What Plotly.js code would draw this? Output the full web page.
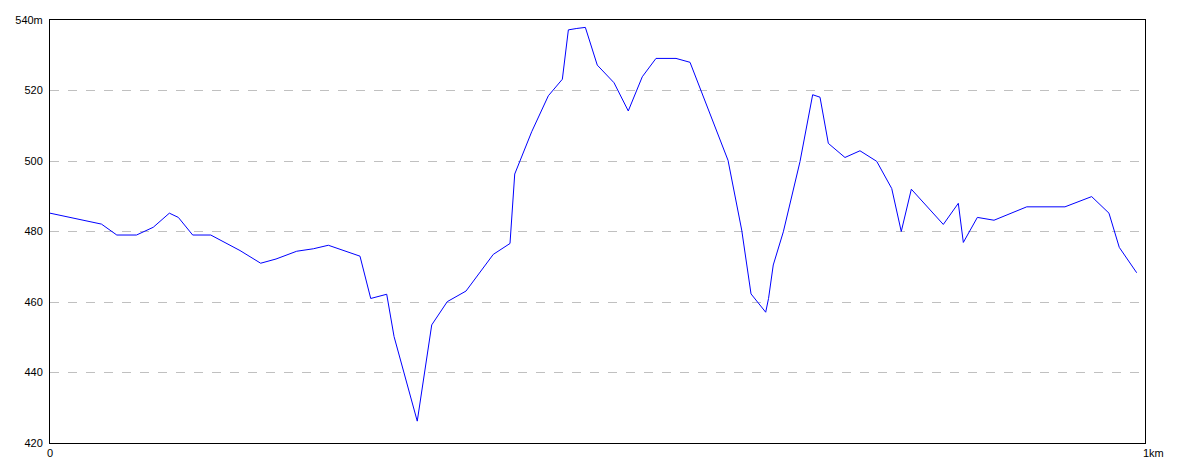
<!DOCTYPE html>
<html>
<head>
<meta charset="utf-8">
<script src="https://cdn.plot.ly/plotly-3.0.1.min.js"></script>
<style>html,body{margin:0;padding:0;background:#fff;}#chart{width:1184px;height:473px;}</style>
</head>
<body>
<div id="chart"></div>
<script>
// Distance along the route (km)
const distanceKm = [0, 0.047, 0.061, 0.079, 0.0943, 0.109, 0.1172, 0.1303, 0.1468, 0.1735,
  0.1924, 0.2064, 0.2253, 0.2405, 0.2542, 0.2831, 0.2929, 0.3075, 0.3142, 0.3354,
  0.3486, 0.3628, 0.3799, 0.4048, 0.4201, 0.4244, 0.4399, 0.4551, 0.4679, 0.4734,
  0.4811, 0.4889, 0.4998, 0.5151, 0.5281, 0.5409, 0.5534, 0.5717, 0.5845, 0.6192,
  0.6317, 0.6402, 0.6536, 0.6562, 0.6605, 0.6697, 0.6849, 0.6965, 0.7032, 0.7108, 0.7260,
  0.7397, 0.7550, 0.7687, 0.7774, 0.7866, 0.8158, 0.8295, 0.8341, 0.8469, 0.8621,
  0.8920, 0.9269, 0.9513, 0.9671, 0.9765, 0.9924];
// Elevation (m)
const elevationM = [485.2, 482.1, 479, 479, 481.2, 485.2, 484, 479, 479, 474.6,
  471, 472.2, 474.4, 475.1, 476.1, 473, 461, 462.2, 450.2, 426.2,
  453.5, 460.1, 463.1, 473.5, 476.6, 496.3, 508.3, 518.5, 523.2, 537.2,
  537.6, 537.9, 527.2, 522.2, 514.2, 523.9, 529.1, 529.1, 528, 500.2,
  480.4, 462.3, 457.1, 461, 470.5, 479.9, 499.8, 518.8, 518.1, 505, 501,
  502.9, 499.9, 492.2, 480, 492, 482, 488, 476.9, 484, 483.2,
  487, 487, 489.9, 485.2, 475.5, 468.3];

const yTickVals = [420, 440, 460, 480, 500, 520, 540];
const yTickText = ['420', '440', '460', '480', '500', '520', '540m'];
const xTickVals = [0, 1];
const xTickText = ['0', '1km'];

const font = {family: 'Liberation Sans, Arial, sans-serif', size: 11, color: '#000'};

const trace = {
  x: distanceKm, y: elevationM, type: 'scatter', mode: 'lines',
  line: {color: '#0000ff', width: 1}, hoverinfo: 'skip'
};

const layout = {
  width: 1184, height: 473,
  margin: {l: 50, r: 39, t: 20, b: 30, pad: 0},
  paper_bgcolor: '#fff', plot_bgcolor: '#fff',
  showlegend: false,
  font: font,
  xaxis: {
    range: [0, 1], tickvals: xTickVals, ticktext: ['', ''],
    showgrid: false, zeroline: false,
    showline: true, mirror: true, linecolor: '#000', linewidth: 1,
    ticks: '', fixedrange: true
  },
  yaxis: {
    range: [420, 540], tickvals: yTickVals, ticktext: yTickText,
    showgrid: true, gridcolor: '#c0c0c0', griddash: 'dash', gridwidth: 1,
    zeroline: false, showline: true, mirror: true, linecolor: '#000', linewidth: 1,
    ticks: '', ticklabelstandoff: 4, tickfont: font, fixedrange: true
  },
  annotations: [
    {x: xTickVals[0], y: 0, xref: 'x', yref: 'paper', text: xTickText[0], showarrow: false,
     xanchor: 'center', yanchor: 'top', yshift: -2, font: font},
    {x: xTickVals[1], y: 0, xref: 'x', yref: 'paper', text: xTickText[1], showarrow: false,
     xanchor: 'left', yanchor: 'top', yshift: -2, xshift: -4, font: font}
  ]
};

Plotly.newPlot('chart', [trace], layout, {displayModeBar: false, staticPlot: true});
</script>
</body>
</html>
